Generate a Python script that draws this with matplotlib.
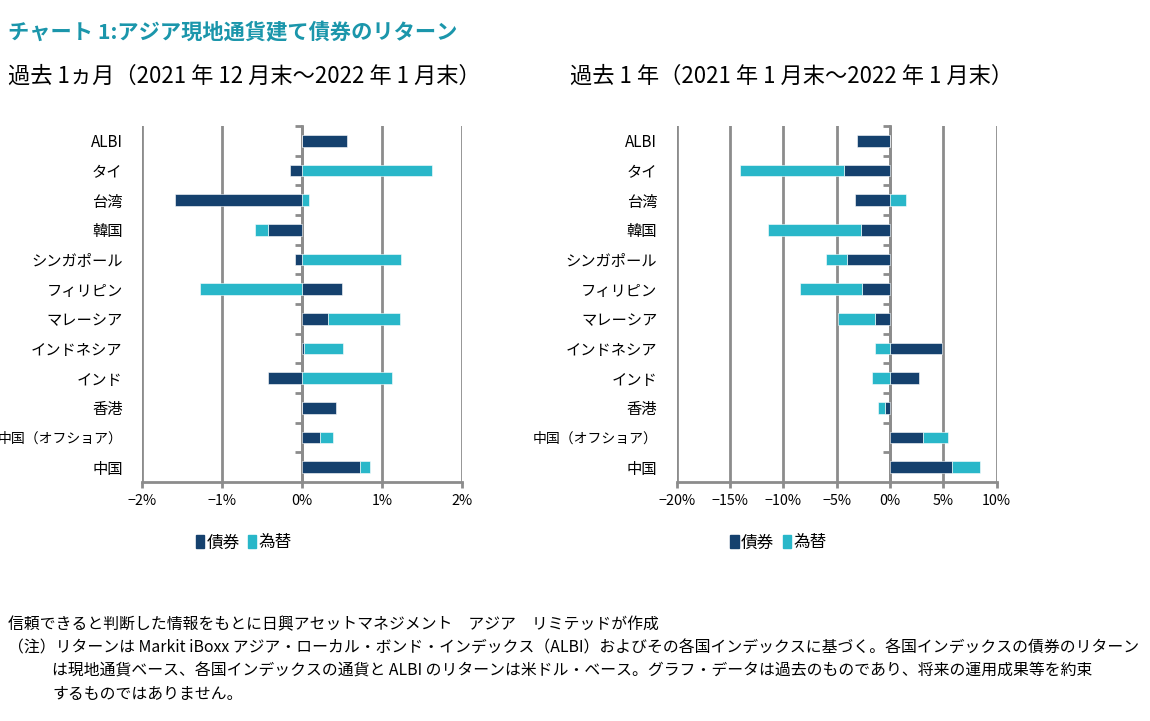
import numpy as np
import matplotlib
matplotlib.use("Agg")
from matplotlib import pyplot as plt
from matplotlib.patches import Patch

plt.rcParams['font.family'] = ['Noto Sans CJK JP', 'DejaVu Sans']
plt.rcParams['axes.unicode_minus'] = True

# カテゴリ(上から順)
categories = ["ALBI", "タイ", "台湾", "韓国", "シンガポール", "フィリピン", "マレーシア",
              "インドネシア", "インド", "香港", "中国（オフショア）", "中国"]

# 過去1ヵ月 (%)
bond_1m = [0.56, -0.15, -1.59, -0.42, -0.09, 0.50, 0.33, 0.02, -0.42, 0.42, 0.23, 0.72]
fx_1m = [0.00, 1.62, 0.09, -0.17, 1.24, -1.27, 0.90, 0.49, 1.12, 0.00, 0.16, 0.13]

# 過去1年 (%)
bond_1y = [-3.1, -4.3, -3.3, -2.7, -4.0, -2.6, -1.4, 4.9, 2.75, -0.5, 3.1, 5.8]
fx_1y = [0.0, -9.8, 1.5, -8.7, -2.0, -5.8, -3.5, -1.4, -1.65, -0.6, 2.3, 2.65]

title = "チャート 1:アジア現地通貨建て債券のリターン"
sub_1m = "過去 1ヵ月（2021 年 12 月末～2022 年 1 月末）"
sub_1y = "過去 1 年（2021 年 1 月末～2022 年 1 月末）"
footer = [
    "信頼できると判断した情報をもとに日興アセットマネジメント　アジア　リミテッドが作成",
    "（注）リターンは Markit iBoxx アジア・ローカル・ボンド・インデックス（ALBI）およびその各国インデックスに基づく。各国インデックスの債券のリターン",
    "は現地通貨ベース、各国インデックスの通貨と ALBI のリターンは米ドル・ベース。グラフ・データは過去のものであり、将来の運用成果等を約束",
    "するものではありません。",
]

NAVY = "#15416E"
CYAN = "#29B7C9"
GRID = "#8C8C8C"

fig = plt.figure(figsize=(11.5, 7.21), dpi=100)


def draw(ax, bond, fx, xlim, xticks, zero_frac):
    bond = np.array(bond)
    fx = np.array(fx)
    y = np.arange(len(categories))
    # 同じ符号なら債券の先に積む
    fx_left = np.where(np.sign(fx) == np.sign(bond), bond, 0.0)
    ax.barh(y, bond, height=0.4, color=NAVY, edgecolor="white", linewidth=0.4, zorder=3)
    ax.barh(y, fx, left=fx_left, height=0.4, color=CYAN, edgecolor="white", linewidth=0.4, zorder=3)
    ax.set_xlim(xlim)
    ax.set_ylim(len(categories) - 0.5, -0.5)
    ax.set_yticks(y)
    ax.set_yticklabels(categories, fontsize=11)
    for lab in ax.get_yticklabels():
        if len(lab.get_text()) > 8:
            lab.set_fontsize(10)
    ax.tick_params(axis='y', length=0, pad=14)
    ax.set_xticks(xticks)
    ax.set_xticklabels(["%d%%" % t if t >= 0 else "\u2212%d%%" % -t for t in xticks], fontsize=10.3)
    ax.tick_params(axis='x', length=4, width=2, color=GRID, pad=5)
    ax.grid(axis='x', color=GRID, linewidth=2, zorder=0)
    for s in ["top", "right", "left"]:
        ax.spines[s].set_visible(False)
    ax.spines["bottom"].set_color(GRID)
    ax.spines["bottom"].set_linewidth(2)
    # 0 の位置の縦軸(カテゴリ境界に目盛り、左向き)
    sec = ax.secondary_yaxis(zero_frac)
    sec.set_yticks(np.arange(len(categories)) - 0.5)
    sec.set_yticklabels([])
    sec.yaxis.set_ticks_position('left')
    sec.tick_params(length=5, width=2, color=GRID, direction='out')
    for s in sec.spines.values():
        s.set_color(GRID)
        s.set_linewidth(2)


ax1 = fig.add_axes([0.1235, 0.3315, 0.2783, 0.4937])
draw(ax1, bond_1m, fx_1m, (-2, 2), [-2, -1, 0, 1, 2], 0.5)

ax2 = fig.add_axes([0.5884, 0.3315, 0.2783, 0.4937])
draw(ax2, bond_1y, fx_1y, (-20, 10), [-20, -15, -10, -5, 0, 5, 10], 20 / 30)

handles = [Patch(color=NAVY, label="債券"), Patch(color=CYAN, label="為替")]
for xc in [0.212, 0.677]:
    fig.legend(handles=handles, loc="center", bbox_to_anchor=(xc, 0.247), ncol=2, frameon=False,
               fontsize=12, handlelength=0.5, handleheight=0.8, handletextpad=0.15, columnspacing=0.5)

fig.text(8 / 1150, 1 - 33 / 721, title, color="#1B96AB", fontsize=15.3, fontweight="bold", va="center")
fig.text(8 / 1150, 1 - 76 / 721, sub_1m, fontsize=16, va="center")
fig.text(570 / 1150, 1 - 76 / 721, sub_1y, fontsize=16, va="center")

fig.text(8 / 1150, 1 - 625 / 721, footer[0], fontsize=11.4, va="center")
fig.text(8 / 1150, 1 - 648 / 721, footer[1], fontsize=11.4, va="center")
fig.text(52 / 1150, 1 - 671 / 721, footer[2], fontsize=11.4, va="center")
fig.text(52 / 1150, 1 - 694 / 721, footer[3], fontsize=11.4, va="center")

fig.savefig("out.png", dpi=100)
